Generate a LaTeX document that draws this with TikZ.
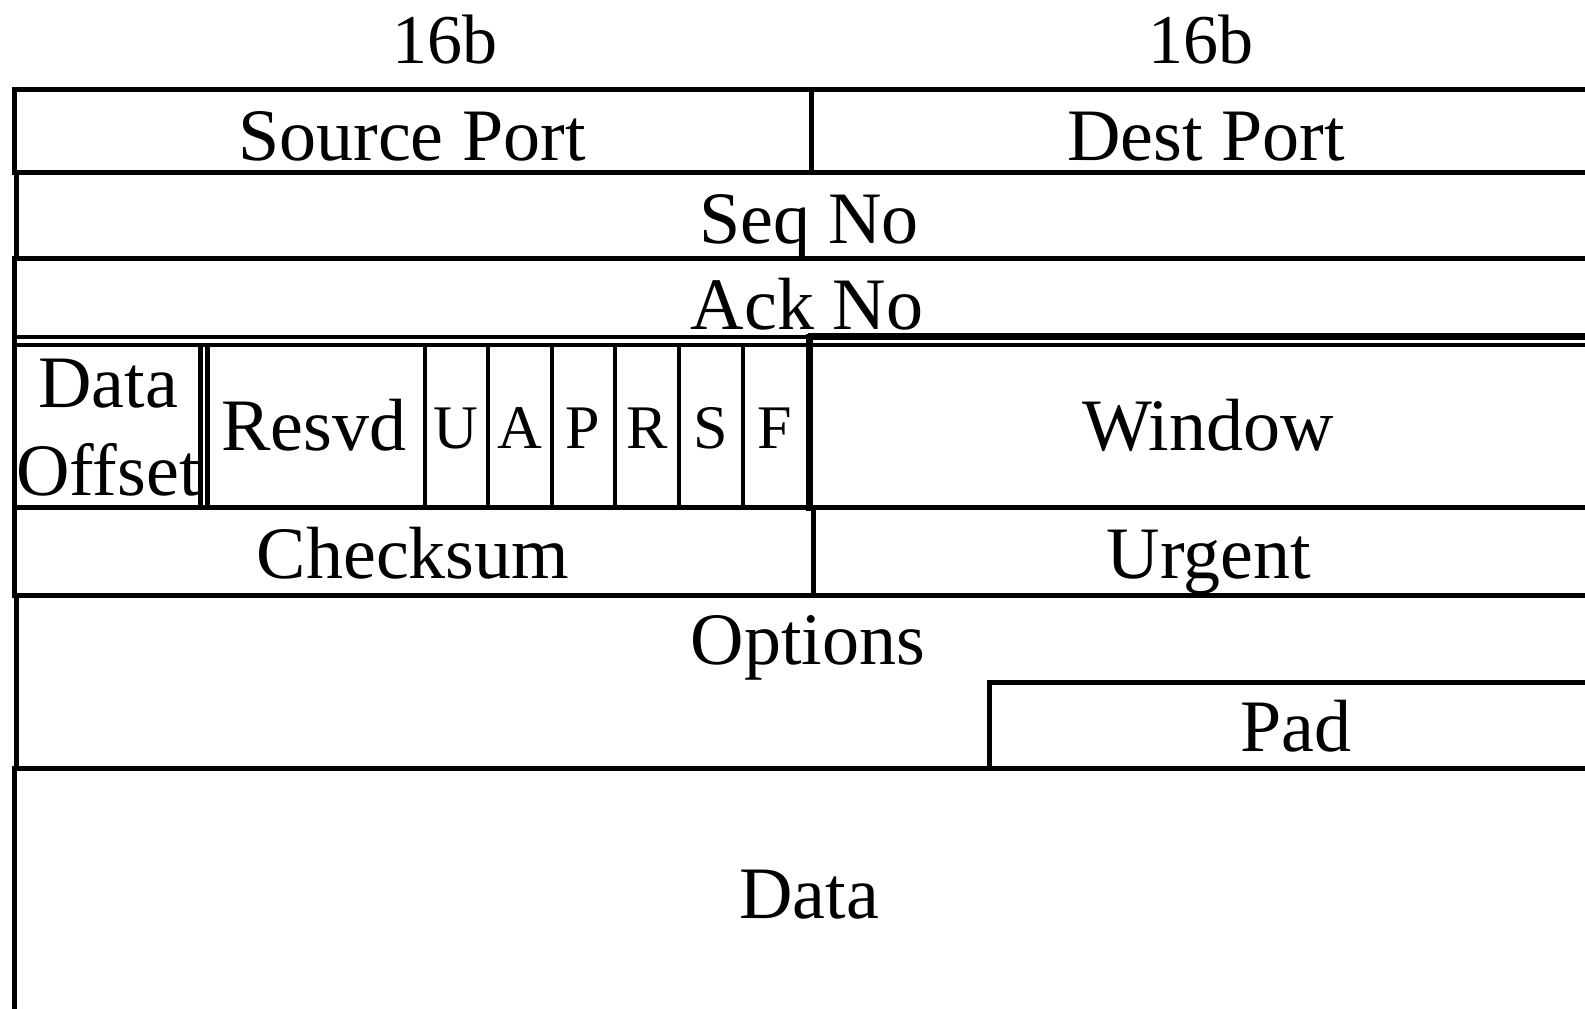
\documentclass[tikz,border=0pt]{standalone}
\usepackage{fontspec}
\setmainfont{Liberation Serif}
\begin{document}
\begin{tikzpicture}[x=1pt,y=-1pt,
  ln/.style={line width=5pt,line cap=rect},
  thin/.style={line width=3.6pt,line cap=rect},
  thick/.style={line width=7pt,line cap=rect},
  lbl/.style={anchor=base,inner sep=0pt,font=\fontsize{74}{87}\selectfont},
  flag/.style={anchor=base,inner sep=0pt,font=\fontsize{62}{70}\selectfont},
  hdr/.style={anchor=base,inner sep=0pt,font=\fontsize{70}{80}\selectfont}]
\useasboundingbox (0,0) rectangle (1585,1009);
% header
\node[hdr] (h1) at (445,63) {16b};
\node[hdr] (h2) at (1201,63) {16b};
% row 1
\draw[ln] (1585,89) -- (14,89) -- (14,172) -- (1585,172);
\draw[ln] (811,89) -- (811,172);
\node[lbl] (src) at (412,160) {Source Port};
\node[lbl] (dst) at (1206,160) {Dest Port};
% row 2
\draw[ln] (16,174) -- (16,258);
\draw[ln] (14,258) -- (1585,258);
\node[lbl] (seq) at (809,243) {Seq No};
% row 3
\draw[ln] (14,260) -- (14,337);
\node[lbl] (ack) at (807,329) {Ack No};
\draw[thin] (14,337) -- (811,337);
\draw[thick] (811,336) -- (1585,336);
\draw[thin] (14,345) -- (1585,345);
% row 4
\draw[ln] (14,337) -- (14,507);
\draw[ln] (200,345) -- (200,507);
\draw[ln] (207,345) -- (207,507);
\foreach \xx in {425,488,552,615,679,743} \draw[thin] (\xx,345) -- (\xx,507);
\draw[thick] (809,337) -- (809,507);
\draw[ln] (14,507) -- (1585,507);
\node[lbl] (doff) at (108,407) {Data};
\node[lbl] (doff2) at (108,495) {Offset};
\node[lbl] (resvd) at (314,450) {Resvd};
\node[flag] (fu) at (456,448) {U};
\node[flag] (fa) at (520,448) {A};
\node[flag] (fp) at (583,448) {P};
\node[flag] (fr) at (647,448) {R};
\node[flag] (fs) at (711,448) {S};
\node[flag] (ff) at (775,448) {F};
\node[lbl] (win) at (1208,450) {Window};
% row 5
\draw[ln] (14,507) -- (14,595);
\draw[ln] (813,507) -- (813,595);
\draw[ln] (14,595) -- (1585,595);
\node[lbl] (chk) at (413,578) {Checksum};
\node[lbl] (urg) at (1209,578) {Urgent};
% row 6
\draw[ln] (16,595) -- (16,768);
\draw[ln] (1585,682) -- (989,682) -- (989,768);
\draw[ln] (14,768) -- (1585,768);
\node[lbl] (opt) at (808,664) {Options};
\node[lbl] (pad) at (1296,751) {Pad};
% row 7
\draw[ln] (14,768) -- (14,1015);
\node[lbl] (data) at (809,918) {Data};
\end{tikzpicture}
\end{document}
